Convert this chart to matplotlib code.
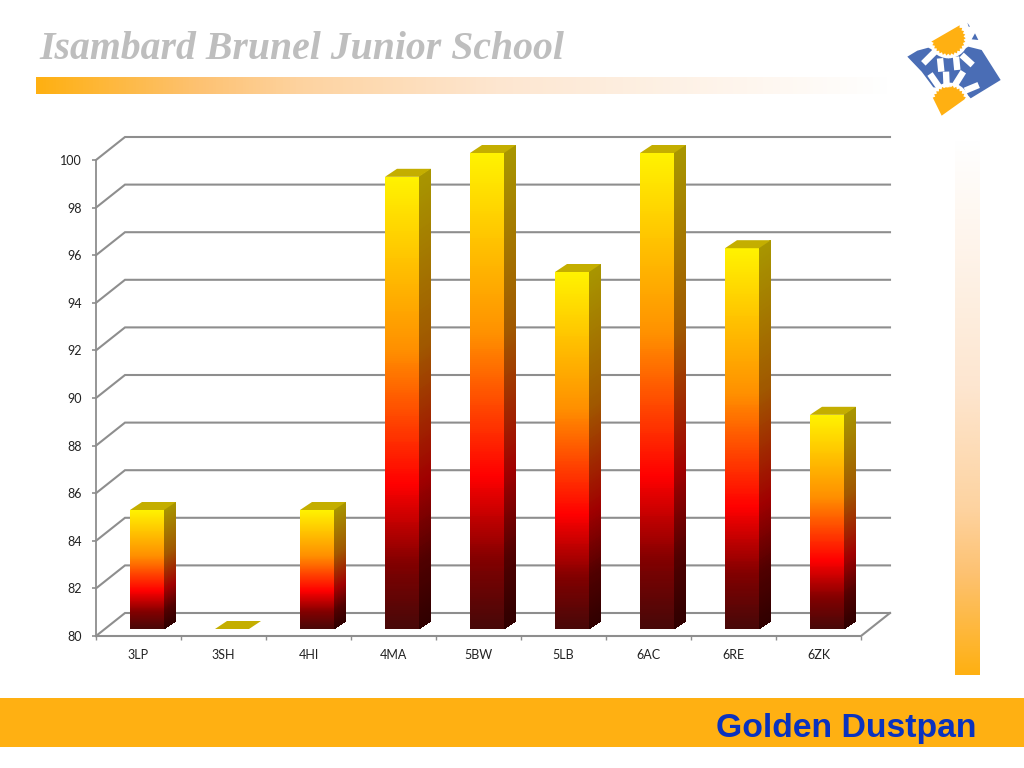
import numpy as np
import matplotlib
matplotlib.use("Agg")
import matplotlib.pyplot as plt
from matplotlib.colors import LinearSegmentedColormap
from matplotlib.patches import Polygon, Circle

categories = ["3LP", "3SH", "4HI", "4MA", "5BW", "5LB", "6AC", "6RE", "6ZK"]
scores = [85, 80, 85, 99, 100, 95, 100, 96, 89]
y_ticks = list(range(80, 101, 2))

W, H = 1024, 768
GRID = "#8E8E8E"
ORANGE = "#FFB012"

fig = plt.figure(figsize=(W / 100, H / 100), dpi=100, facecolor="white")

# page decoration, pixel coordinates
bg = fig.add_axes([0, 0, 1, 1], zorder=0)
bg.set_axis_off()

def fade(colors):
    return LinearSegmentedColormap.from_list("f", colors)

page_fade = fade([(0, ORANGE), (0.19, "#FDC272"), (0.31, "#FDD3A0"), (0.54, "#FDE6D0"), (1, "#FFFFFF")])
bg.imshow(np.linspace(0, 1, 256)[None, :], extent=(36, 890, 94, 77), cmap=page_fade, aspect="auto", vmin=0, vmax=1)
bg.imshow(np.linspace(1, 0, 256)[:, None], extent=(955, 980, 675, 140), cmap=page_fade, aspect="auto", vmin=0, vmax=1, origin="upper")
bg.add_patch(plt.Rectangle((0, 698), W, 49, color=ORANGE, lw=0))
bg.set_xlim(0, W)
bg.set_ylim(H, 0)
bg.text(39, 59, "Isambard Brunel Junior School", family="Liberation Serif", weight="bold",
        style="italic", size=28.6, color="#BEBEBE", va="baseline", ha="left")
bg.text(977, 725, "Golden Dustpan", family="Liberation Sans", weight="bold", size=24.3,
        color="#0A32BE", va="center_baseline", ha="right")

def z(pts):
    return [(880 + a / 3, b / 3) for a, b in pts]

LOGO_BLUE = "#4A6DB5"
bg.add_patch(Polygon(z([(82, 170), (112, 152), (145, 143), (205, 175), (265, 140), (305, 150),
                        (362, 240), (272, 295), (250, 270), (160, 262), (125, 215)]),
                     color=LOGO_BLUE, lw=0))
stripes = [[(130, 190), (165, 155)], [(180, 175), (184, 215)], [(228, 170), (232, 210)],
           [(245, 165), (278, 195)], [(150, 222), (178, 262)], [(198, 215), (200, 262)],
           [(250, 215), (225, 255)], [(255, 272), (296, 255)]]
for s in stripes:
    (xa, ya), (xb, yb) = z(s)
    bg.plot([xa, xb], [ya, yb], color="white", lw=4.6, solid_capstyle="butt")

def gear(cx, cy, r, a0, a1, extra=()):
    n = int(abs(a1 - a0) / 6)
    a = np.radians(np.linspace(a0, a1, n + 1))
    rr = np.where(np.arange(n + 1) % 2 == 0, r, r - 6)
    return list(zip(cx + rr * np.cos(a), cy + rr * np.sin(a))) + list(extra)

cx, cy = 880 + 205 / 3, 115 / 3
bg.add_patch(Circle((cx, cy), 20, color="white", lw=0))
bg.add_patch(Polygon(z(gear(205, 115, 52, -49, 169)), color=ORANGE, lw=0))
cx, cy = 880 + 208 / 3, 308 / 3
bg.add_patch(Circle((cx, cy), 20, color="white", lw=0))
bg.add_patch(Polygon(z(gear(208, 308, 52, 197, 348, extra=[(185, 347)])), color=ORANGE, lw=0))
bg.add_patch(Polygon(z([(262, 68), (270, 80), (266, 80)]), color=LOGO_BLUE, lw=0))
bg.add_patch(Polygon(z([(285, 100), (295, 120), (275, 118)]), color=LOGO_BLUE, lw=0))

# chart
left, right, bottom, top = 96, 861, 636, 160
ax = fig.add_axes([left / W, 1 - bottom / H, (right - left) / W, (bottom - top) / H], zorder=1)
ax.patch.set_alpha(0)
ax.set_xlim(-0.5, len(categories) - 0.5)
ax.set_ylim(80, 100)
px_x = len(categories) / (right - left)
px_y = 20 / (bottom - top)

wall_dx, wall_dy = 29 * px_x, 23 * px_y
x0, x1 = ax.get_xlim()
for v in y_ticks:
    ax.plot([x0, x0 + wall_dx, x1 + wall_dx], [v, v + wall_dy, v + wall_dy], color=GRID, lw=1.5,
            clip_on=False, zorder=1, solid_joinstyle="miter")
ax.plot([x0, x0], [80, 100], color=GRID, lw=1.3, clip_on=False, zorder=1)
ax.plot([x0, x1, x1 + wall_dx], [80, 80, 80 + wall_dy], color=GRID, lw=1.5, clip_on=False, zorder=1)

front_cmap = fade([(0, "#FFF200"), (0.38, "#FF9000"), (0.68, "#FF0000"), (0.86, "#800000"), (1, "#480808")])
side_cmap = fade([(0, "#A89600"), (0.38, "#A05800"), (0.68, "#A00000"), (0.86, "#500000"), (1, "#300000")])

bar_w = 34 * px_x
off_x, off_y = 8.5 * px_x, 7 * px_y
dep_x, dep_y = 12 * px_x, 8 * px_y
base = 80 + off_y
rows = 240
for i, v in enumerate(scores):
    xa = i + off_x - bar_w / 2
    xb = xa + bar_w
    ytop = v + off_y
    if v > 80:
        ys = np.linspace(ytop, base, rows + 1)
        t = np.linspace(0, 1, rows)[:, None]
        ax.pcolormesh([xa, xb], ys, t, cmap=front_cmap, vmin=0, vmax=1, zorder=3, clip_on=False,
                      shading="flat")
        Xs = np.array([[xb, xb + dep_x]] * (rows + 1))
        Ys = np.column_stack([ys, ys + dep_y])
        ax.pcolormesh(Xs, Ys, t, cmap=side_cmap, vmin=0, vmax=1, zorder=3, clip_on=False, shading="flat")
    ax.add_patch(Polygon([(xa, ytop), (xb, ytop), (xb + dep_x, ytop + dep_y), (xa + dep_x, ytop + dep_y)],
                         color="#C4AE00", lw=0, zorder=4, clip_on=False))

ax.set_xticks(range(len(categories)))
ax.set_xticklabels(categories)
ax.set_xticks(np.arange(-0.5, len(categories)), minor=True)
ax.set_yticks(y_ticks)
ax.tick_params(axis="x", which="major", length=0, pad=9.5, labelsize=9, labelcolor="#222222")
ax.tick_params(axis="x", which="minor", length=3, width=1, color=GRID)
ax.tick_params(axis="y", length=3, width=1.2, color=GRID, pad=7, labelsize=9, labelcolor="#222222")
for lab in ax.get_xticklabels() + ax.get_yticklabels():
    lab.set_family("Lato")
for s in ax.spines.values():
    s.set_visible(False)

fig.savefig("out.png", dpi=100, facecolor="white")
